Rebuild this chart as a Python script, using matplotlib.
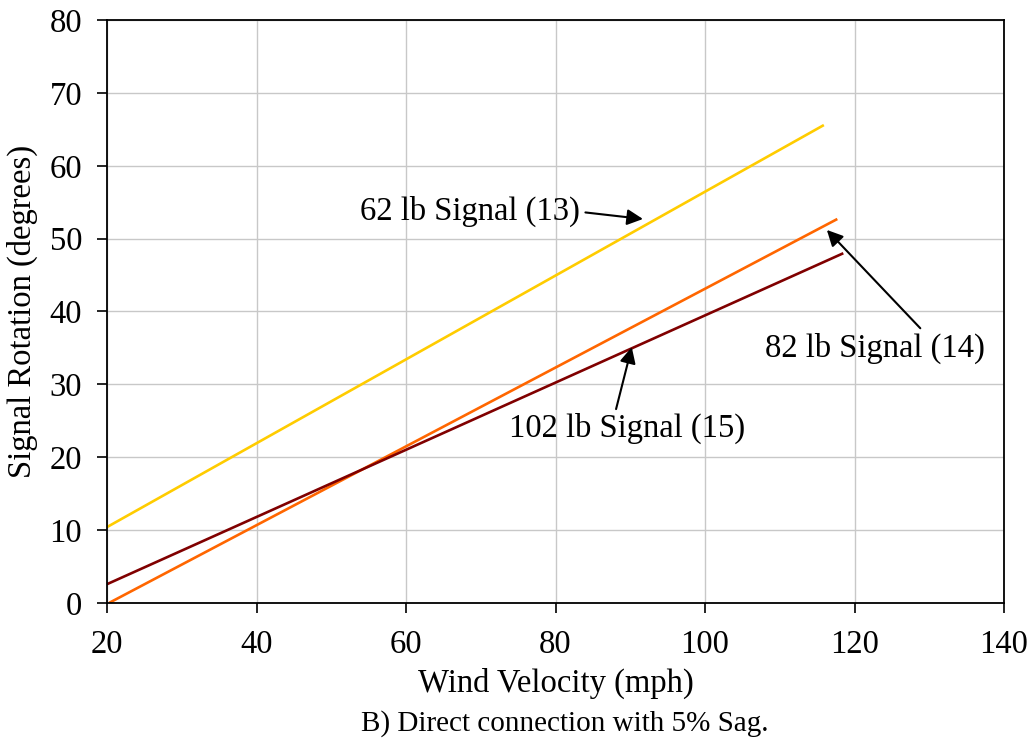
import numpy as np
import matplotlib.pyplot as plt

plt.rcParams['font.family'] = ['Liberation Serif', 'DejaVu Serif']

# line end points
wind_62 = [20, 115.9]
rot_62 = [10.4, 65.6]
wind_82 = [20.3, 117.7]
rot_82 = [0.0, 52.7]
wind_102 = [20, 118.5]
rot_102 = [2.56, 48.0]

fig = plt.figure(figsize=(10.34, 7.47), dpi=100)
ax = fig.add_axes([0.1035, 0.193, 0.8675, 0.780])

ax.plot(wind_62, rot_62, color='#FFCC00', lw=1.9, solid_capstyle='butt')
ax.plot(wind_82, rot_82, color='#FF6600', lw=1.9, solid_capstyle='butt')
ax.plot(wind_102, rot_102, color='#800000', lw=1.9, solid_capstyle='butt')

ax.set_xlim(20, 140)
ax.set_ylim(0, 80)
ax.set_xticks(np.arange(20, 141, 20))
ax.set_yticks(np.arange(0, 81, 10))
ax.grid(True, color='#c8c8c8', lw=1.0)
ax.set_axisbelow(True)
for s in ax.spines.values():
    s.set_linewidth(1.3)
ax.tick_params(direction='out', length=7, width=1.2, labelsize=23.5)
ax.tick_params(axis='x', pad=12)
ax.tick_params(axis='y', pad=11)

ax.set_xlabel('Wind Velocity (mph)', fontsize=23.5, labelpad=6)
ax.set_ylabel('Signal Rotation (degrees)', fontsize=23.5, labelpad=8)
fig.text(0.546, 0.032, 'B) Direct connection with 5% Sag.', fontsize=21,
         ha='center', va='center')

arrow = dict(arrowstyle='-|>', color='black', lw=1.5, mutation_scale=24,
             shrinkA=0, shrinkB=0)
ax.text(68.6, 53.8, '62 lb Signal (13)', fontsize=23.5, ha='center', va='center')
ax.annotate('', xy=(91.7, 52.7), xytext=(84.0, 53.6), arrowprops=arrow)
ax.text(122.7, 35.0, '82 lb Signal (14)', fontsize=23.5, ha='center', va='center')
ax.annotate('', xy=(116.3, 51.2), xytext=(128.8, 37.7), arrowprops=arrow)
ax.text(89.6, 24.0, '102 lb Signal (15)', fontsize=23.5, ha='center', va='center')
ax.annotate('', xy=(90.2, 35.1), xytext=(88.1, 26.6), arrowprops=arrow)

fig.savefig('out.png', dpi=100)
